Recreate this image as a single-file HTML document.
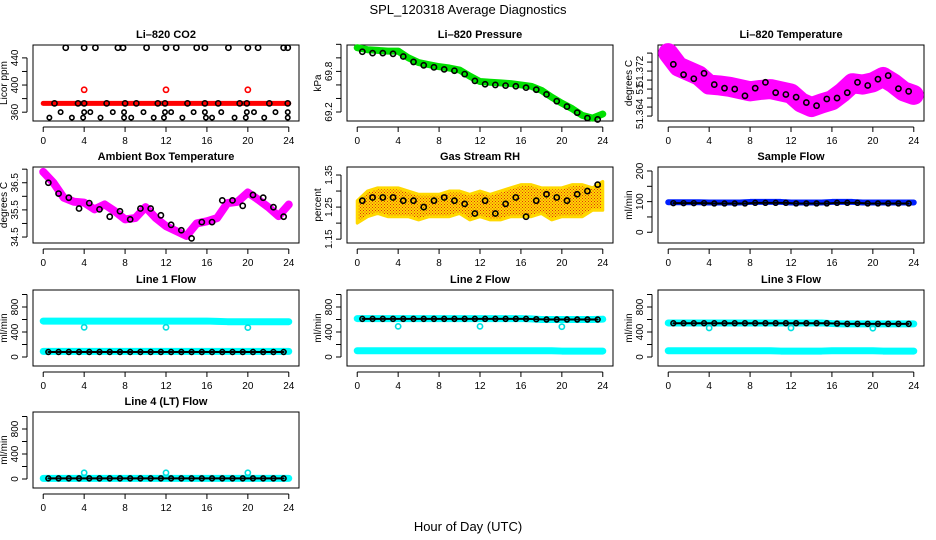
<!DOCTYPE html>
<html><head><meta charset="utf-8"><style>
body{margin:0;background:#fff}
svg{display:block;font-family:"Liberation Sans",sans-serif}
.t{font-size:11px;font-weight:bold;text-anchor:middle}
.k{font-size:10px;text-anchor:middle}
</style></head><body>
<svg id="s" width="936" height="540" viewBox="0 0 936 540">
<defs><pattern id="rh" width="3" height="3" patternUnits="userSpaceOnUse"><rect width="3" height="3" fill="#ffd800"/><rect width="1" height="1" fill="#e03010"/><rect x="1.5" y="1.5" width="1" height="1" fill="#e03010"/></pattern></defs>
<text x="468" y="14" font-size="13" text-anchor="middle">SPL_120318  Average Diagnostics</text>
<text x="468" y="531" font-size="13" text-anchor="middle">Hour of Day (UTC)</text>
</svg>
<script>
const HRS=[0,1,2,3,4,5,6,7,8,9,10,11,12,13,14,15,16,17,18,19,20,21,22,23,24];
const HALF=[0.5,1.5,2.5,3.5,4.5,5.5,6.5,7.5,8.5,9.5,10.5,11.5,12.5,13.5,14.5,15.5,16.5,17.5,18.5,19.5,20.5,21.5,22.5,23.5];
const XTICKS=[0,4,8,12,16,20,24];
// CO2
const co2Band=[373,373,373,373,373,373,373,373,373,373,373,373,373,373,373,373,373,373,373,373,373,373,373,373,373];
const co2RedX=[4,12,20], co2RedY=[393,393,393];
const co2TopX=[2.2,4,5.1,7.3,7.8,10.1,12,13,15,15.8,18.1,20,21,23.5,23.9];
const co2MidX=[1.1,3.4,4,6.2,8,9.1,11.2,11.9,14.1,15.8,17.1,19.2,19.9,22.1,23.9];
const co2LowX=[1.7,4,4.6,6.8,7.9,9.8,11.9,12.5,14.7,15.8,17.4,19.9,20.6,22.7,23.9];
const co2BotX=[0.6,2.8,3.9,5.6,7.9,8.6,10.8,11.8,13.6,15.9,16.5,18.7,19.8,21.6,23.9];
// Pressure
const presBand=[70.15,70.12,70.11,70.10,70.10,70.00,69.93,69.90,69.87,69.85,69.82,69.73,69.65,69.64,69.63,69.62,69.60,69.58,69.52,69.42,69.33,69.25,69.15,69.11,69.17];
const presPts=[70.09,70.07,70.07,70.06,70.02,69.94,69.89,69.86,69.83,69.81,69.76,69.66,69.61,69.60,69.59,69.58,69.56,69.53,69.46,69.36,69.28,69.19,69.11,69.09];
// Li-820 temperature
const tBand=[51.3760,51.3730,51.3720,51.3710,51.3690,51.3688,51.3685,51.3680,51.3675,51.3678,51.3680,51.3675,51.3670,51.3650,51.3640,51.3648,51.3655,51.3672,51.3693,51.3690,51.3695,51.3707,51.3693,51.3675,51.3667];
const tPts=[51.3735,51.3712,51.3703,51.3715,51.3690,51.3682,51.3680,51.3665,51.3682,51.3695,51.3672,51.3668,51.3662,51.3650,51.3643,51.3658,51.3660,51.3672,51.3695,51.3688,51.3702,51.3710,51.3681,51.3675];
// Ambient
const ambBand=[36.9,36.5,35.95,35.8,35.77,35.52,35.7,35.45,35.15,35.2,35.6,35.2,34.9,34.72,34.54,35.0,35.08,35.2,35.75,35.8,36.14,35.88,35.6,35.27,35.7];
const ambPts=[36.5,36.1,35.95,35.55,35.75,35.52,35.25,35.45,35.15,35.55,35.55,35.3,34.95,34.75,34.45,35.05,35.05,35.85,35.85,35.65,36.05,35.95,35.6,35.25];
// RH
const rhLow=[1.20,1.22,1.23,1.22,1.22,1.22,1.21,1.22,1.22,1.22,1.23,1.21,1.22,1.21,1.21,1.22,1.22,1.22,1.23,1.21,1.22,1.22,1.22,1.24,1.24];
const rhHigh=[1.27,1.30,1.31,1.31,1.31,1.30,1.29,1.29,1.29,1.30,1.30,1.29,1.30,1.29,1.30,1.31,1.32,1.32,1.31,1.31,1.31,1.32,1.32,1.31,1.33];
const rhPts=[1.27,1.28,1.28,1.28,1.27,1.27,1.25,1.27,1.28,1.27,1.26,1.23,1.27,1.23,1.26,1.28,1.22,1.27,1.29,1.28,1.27,1.29,1.30,1.32];
// Flows
const sfBand=[98,98,98,98,97,97,97,97,99,99,99,99,97,97,97,97,99,99,99,97,97,97,97,97,97];
const sfPts=[95,95,95,95,94,94,94,94,96,96,96,96,94,94,94,94,96,96,96,94,94,94,94,94];
const l1Hi=[575,575,575,575,575,575,575,575,575,575,575,575,575,575,575,575,575,570,565,565,565,565,565,565,565];
const l1Lo=[90,90,90,90,90,90,90,90,90,90,90,90,90,90,90,90,90,90,90,90,90,90,90,90,90];
const l1Pts=[80,80,80,80,80,80,80,80,80,80,80,80,80,80,80,80,80,80,80,80,80,80,80,80];
const l2Hi=[615,615,615,615,615,615,615,615,615,615,615,615,615,615,615,615,615,610,600,600,600,600,600,600,605];
const l2Lo=[100,100,100,100,100,100,100,100,100,100,100,100,100,100,100,100,100,100,100,100,95,95,95,95,95];
const l2Pts=[610,610,610,610,610,610,610,610,610,610,610,610,610,610,610,610,610,605,600,600,600,600,600,600];
const l3Hi=[545,545,545,545,545,545,545,545,545,545,545,545,545,545,545,545,535,530,530,530,530,530,530,530,530];
const l3Lo=[100,100,100,100,100,100,100,100,100,100,100,95,95,95,95,95,100,100,100,100,100,95,95,95,95];
const l3Pts=[540,540,540,540,540,540,540,540,540,540,540,540,540,540,540,540,535,530,530,530,530,530,530,530];
const l4Band=[10,10,10,10,10,10,10,10,10,10,10,10,10,10,10,10,10,10,10,10,10,10,10,10,10];
const l4Pts=[10,10,10,10,10,10,10,10,10,10,10,10,10,10,10,10,10,10,10,10,10,10,10,10];
const spikeX=[4,12,20];
const l1Spike=[475,475,470], l2Spike=[490,490,485], l3Spike=[465,465,460], l4Spike=[100,100,100];
const FLOWTICKS=[0,200,400,600,800,1000], FLOWLAB=[0,400,800];

const S=document.getElementById('s'),NS='http://www.w3.org/2000/svg';
function mk(t,a,p){const e=document.createElementNS(NS,t);for(const k in a)e.setAttribute(k,a[k]);(p||S).appendChild(e);return e;}
const COLS=[33,347,658],ROWS=[45,167,290,412],W=266,H=76;
function panel(name,title,c,r,ylo,yhi,ticks,labs,ylab){
 const g=mk('g',{});
 
 
 const L=COLS[c],T=ROWS[r];
 const sx=v=>L+(v+1)/26*W, sy=v=>T+H-(v-ylo)/(yhi-ylo)*H;
 const b=mk('rect',{x:L,y:T,width:W,height:H,fill:'none',stroke:'#000'},g);
 
 
 const tt=mk('text',{x:L+W/2,y:T-7,class:'t'},g);tt.textContent=title;
 
 
 mk('line',{x1:sx(0),x2:sx(24),y1:T+H+6,y2:T+H+6,stroke:'#000'},g);
 XTICKS.forEach(v=>{mk('line',{x1:sx(v),x2:sx(v),y1:T+H+6,y2:T+H+11,stroke:'#000'},g);
  const e=mk('text',{x:sx(v),y:T+H+23,class:'k'},g);e.textContent=v;
  
  });
 const inT=ticks.filter(v=>sy(v)>=T-8);
 mk('line',{x1:L-6,x2:L-6,y1:sy(inT[0]),y2:sy(inT[inT.length-1]),stroke:'#000'},g);
 inT.forEach(v=>mk('line',{x1:L-6,x2:L-11,y1:sy(v),y2:sy(v),stroke:'#000'},g));
 labs.forEach(l=>{const y=sy(l[0]);const e=mk('text',{x:0,y:0,class:'k',transform:`translate(${L-15},${y}) rotate(-90)`},g);e.textContent=l[1];
  
  });
 const yl=mk('text',{x:0,y:0,class:'k',transform:`translate(${L-26},${T+H/2}) rotate(-90)`},g);yl.textContent=ylab;
 
 
 return {g,sx,sy};
}
function band(P,xs,ys,col,w,name){
 const e=mk('polyline',{points:xs.map((x,i)=>P.sx(x)+','+P.sy(ys[i])).join(' '),fill:'none',stroke:col,'stroke-width':w,'stroke-linejoin':'round','stroke-linecap':'round'},P.g);
 
 
}
function area(P,xs,lo,hi,fill,name){
 const pts=xs.map((x,i)=>P.sx(x)+','+P.sy(hi[i])).concat(xs.map((x,i)=>P.sx(x)+','+P.sy(lo[i])).reverse());
 const e=mk('polygon',{points:pts.join(' '),fill:fill,stroke:'#ffd800','stroke-width':3,'stroke-linejoin':'round'},P.g);
 
 
}
function pts(P,xs,ys,col,name,r){
 xs.forEach((x,i)=>{const e=mk('circle',{cx:P.sx(x),cy:P.sy(ys[i]),r:r||2.6,fill:'none',stroke:col,'stroke-width':1.6},P.g);
  
  });
}
function cst(xs,v){return xs.map(()=>v);}
// CO2
let P=panel('co2','Li–820 CO2',0,0,347,459,[360,380,400,420,440],[[360,'360'],[400,'400'],[440,'440']],'Licor ppm');
band(P,HRS,co2Band,'#f00',5,'co2-band');
pts(P,co2RedX,co2RedY,'#f00','co2-red-point');
pts(P,co2TopX,cst(co2TopX,455),'#000','co2-point');
pts(P,co2MidX,cst(co2MidX,373),'#000','co2-point');
pts(P,co2LowX,cst(co2LowX,360),'#000','co2-point',2.2);
pts(P,co2BotX,cst(co2BotX,352),'#000','co2-point',2.2);
// Pressure
P=panel('pressure','Li–820 Pressure',1,0,69.067,70.19,[69.2,69.4,69.6,69.8,70.0,70.2],[[69.2,'69.2'],[69.8,'69.8']],'kPa');
band(P,HRS,presBand,'#00e000',7,'pressure-band');
pts(P,HALF,presPts,'#000','pressure-point');
// Li temp
P=panel('li820-temp','Li–820 Temperature',2,0,51.3609,51.3778,[51.362,51.364,51.366,51.368,51.370,51.372,51.374,51.376],[[51.3625,'51.364'],[51.368,'51'],[51.372,'51.372']],'degrees C');
band(P,HRS,tBand,'#ff00ff',20,'li820-temp-band');
pts(P,HALF,tPts,'#000','li820-temp-point');
// Ambient
P=panel('ambient-temp','Ambient Box Temperature',0,1,34.28,37.08,[34.5,35,35.5,36,36.5,37],[[34.5,'34.5'],[35.5,'35.5'],[36.5,'36.5']],'degrees C');
band(P,HRS,ambBand,'#ff00ff',8,'ambient-band');
pts(P,HALF,ambPts,'#000','ambient-point');
// RH
P=panel('gas-rh','Gas Stream RH',1,1,1.138,1.375,[1.15,1.2,1.25,1.3,1.35],[[1.15,'1.15'],[1.25,'1.25'],[1.35,'1.35']],'percent');
area(P,HRS,rhLow,rhHigh,'url(#rh)','rh-band');
pts(P,HALF,rhPts,'#000','rh-point');
// Sample flow
P=panel('sample-flow','Sample Flow',2,1,-35,213,[0,50,100,150,200],[[0,'0'],[100,'100'],[200,'200']],'ml/min');
band(P,HRS,sfBand,'#0020ff',6,'sample-flow-band');
band(P,HALF,sfPts,'#000',2,'sample-flow-black');
pts(P,HALF,sfPts,'#000','sample-flow-point',2.4);
// Lines
const FL=[[0,2,'line1','Line 1 Flow',l1Hi,l1Lo,l1Pts,l1Spike],[1,2,'line2','Line 2 Flow',l2Hi,l2Lo,l2Pts,l2Spike],[2,2,'line3','Line 3 Flow',l3Hi,l3Lo,l3Pts,l3Spike],[0,3,'line4','Line 4 (LT) Flow',l4Band,null,l4Pts,l4Spike]];
FL.forEach(f=>{
 const Q=panel(f[2],f[3],f[0],f[1],-144,1072,FLOWTICKS,FLOWLAB.map(v=>[v,String(v)]),'ml/min');
 band(Q,HRS,f[4],'#00ffff',7,f[2]+'-band');
 if(f[5])band(Q,HRS,f[5],'#00ffff',7,f[2]+'-low-band');
 band(Q,HALF,f[6],'#000',2,f[2]+'-black');
 pts(Q,HALF,f[6],'#000',f[2]+'-point',2.4);
 pts(Q,spikeX,f[7],'#00e0e0',f[2]+'-spike');
});
</script>
</body></html>
